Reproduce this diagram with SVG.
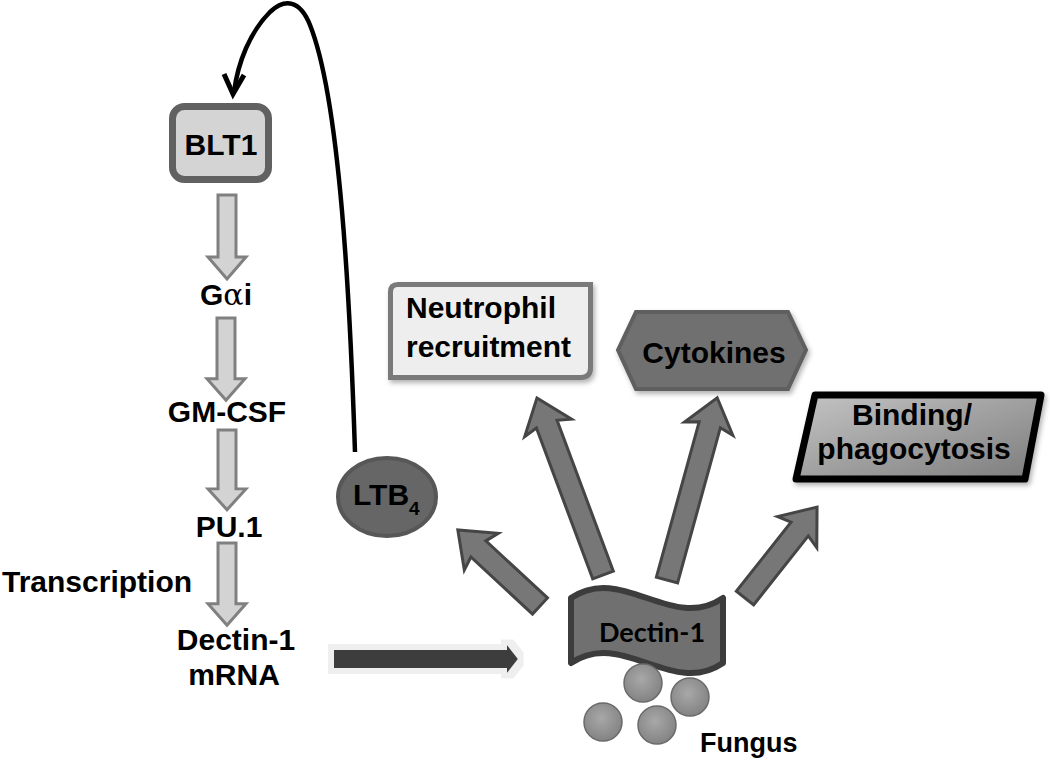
<svg xmlns="http://www.w3.org/2000/svg" width="1050" height="760" viewBox="0 0 1050 760">
<defs>
<style>
.t{font-family:"Liberation Sans",Arial,sans-serif;font-weight:bold;font-size:30px;fill:#000}
.vArrow{fill:#d3d3d3;stroke:#808080;stroke-width:3;stroke-linejoin:miter}
.rArrow{fill:#777777;stroke:#454545;stroke-width:3;stroke-linejoin:miter}
.ball{fill:url(#ballGrad);stroke:#6a6a6a;stroke-width:1.5}
</style>
<radialGradient id="ballGrad" cx="0.45" cy="0.4" r="0.65">
<stop offset="0" stop-color="#a8a8a8"/>
<stop offset="1" stop-color="#808080"/>
</radialGradient>
<linearGradient id="bindGrad" x1="0" y1="0" x2="1" y2="1">
<stop offset="0" stop-color="#c4c4c4"/>
<stop offset="1" stop-color="#7c7c7c"/>
</linearGradient>
<filter id="shadow" x="-10%" y="-10%" width="130%" height="140%">
<feDropShadow dx="2" dy="3" stdDeviation="2.5" flood-color="#000" flood-opacity="0.3"/>
</filter>
<filter id="glow" x="-10%" y="-50%" width="120%" height="200%">
<feMorphology operator="dilate" radius="6" in="SourceAlpha" result="d"/>
<feFlood flood-color="#efefef"/>
<feComposite in2="d" operator="in" result="g"/>
<feMerge><feMergeNode in="g"/><feMergeNode in="SourceGraphic"/></feMerge>
</filter>
<path id="vArr" d="M-9,0 L9,0 L9,62 L19,62 L0,84 L-19,62 L-9,62 Z"/>
</defs>

<g id="connectors">
<!-- feedback curve LTB4 -> BLT1 -->
<path d="M355,452 C350,300 340,100 310,25 C300,0 285,-2 270,12 C250,32 238,62 234,92" fill="none" stroke="#000" stroke-width="4.5"/>
<polyline points="224,74 233,94 244,75" fill="none" stroke="#000" stroke-width="5" stroke-linejoin="miter"/>
<!-- vertical pathway arrows -->
<use href="#vArr" class="vArrow" transform="translate(227,195)"/>
<use href="#vArr" class="vArrow" transform="translate(226,318) scale(1,0.98)"/>
<use href="#vArr" class="vArrow" transform="translate(227,430) scale(1,0.95)"/>
<use href="#vArr" class="vArrow" transform="translate(227,543) scale(1,0.98)"/>
<!-- mRNA -> Dectin-1 arrow -->
<polygon points="334,650 507,650 507,645 518,659 507,673 507,668 334,668" fill="#3d3d3d" filter="url(#glow)"/>
<!-- radiating arrows from Dectin-1 -->
<polygon class="rArrow" points="0,-11 84,-11 80,-25 112,0 80,25 84,11 0,11" transform="translate(540,606) rotate(-137.2)"/>
<polygon class="rArrow" points="0,-11 161,-11 157,-25 189,0 157,25 161,11 0,11" transform="translate(603,575) rotate(-110.45)"/>
<polygon class="rArrow" points="0,-11 161,-11 157,-25 189,0 157,25 161,11 0,11" transform="translate(667,580) rotate(-74.6)"/>
<polygon class="rArrow" points="0,-11 88,-11 84,-25 116,0 84,25 88,11 0,11" transform="translate(745,598) rotate(-51.6)"/>
</g>

<g id="BLT1">
<rect x="172.5" y="106.5" width="96" height="73" rx="12" fill="#d4d4d4" stroke="#616161" stroke-width="7"/>
<text class="t" x="221" y="155" text-anchor="middle">BLT1</text>
</g>

<g id="Galphai"><text class="t" x="226" y="305" text-anchor="middle">G<tspan font-family="'DejaVu Serif','Liberation Serif',serif" font-weight="normal">α</tspan>i</text></g>
<g id="GM-CSF"><text class="t" x="227" y="422" text-anchor="middle">GM-CSF</text></g>
<g id="PU1"><text class="t" x="229" y="537" text-anchor="middle">PU.1</text></g>
<g id="Transcription"><text class="t" x="2" y="592">Transcription</text></g>
<g id="Dectin1mRNA">
<text class="t" x="236" y="650" text-anchor="middle">Dectin-1</text>
<text class="t" x="234" y="685" text-anchor="middle">mRNA</text>
</g>

<g id="LTB4">
<ellipse cx="387" cy="497" rx="49" ry="39" fill="#666666" stroke="#575757" stroke-width="4"/>
<text class="t" x="353" y="505">LTB<tspan font-size="19" dy="10">4</tspan></text>
</g>

<g id="Neutrophil">
<path d="M398,284.5 L590.5,284.5 L590.5,368 Q590.5,377.5 581,377.5 L390.5,377.5 L390.5,292 Q390.5,284.5 398,284.5 Z" fill="#eeeeee" stroke="#7a7a7a" stroke-width="5" filter="url(#shadow)"/>
<text class="t" x="406" y="318">Neutrophil</text>
<text class="t" x="406" y="357">recruitment</text>
</g>

<g id="Cytokines">
<polygon points="618,350 636,312 788,312 806,350 788,389 636,389" fill="#707070" stroke="#5e5e5e" stroke-width="4" filter="url(#shadow)"/>
<text class="t" x="714" y="363" text-anchor="middle">Cytokines</text>
</g>

<g id="Binding">
<polygon points="815,395 1041,395 1025,479 796,479" fill="url(#bindGrad)" stroke="#000" stroke-width="7" stroke-linejoin="round" filter="url(#shadow)"/>
<text class="t" x="912" y="425" text-anchor="middle">Binding/</text>
<text class="t" x="914" y="459" text-anchor="middle">phagocytosis</text>
</g>

<g id="Dectin1">
<path d="M571,598 C622,563 672,633 723,598 L723,663 C672,698 622,628 571,663 Z" fill="#707070" stroke="#3c3c3c" stroke-width="6" stroke-linejoin="round"/>
<text x="652" y="642" text-anchor="middle" style="font-family:Lato,'Open Sans',sans-serif;font-weight:bold;font-size:27px;fill:#000">Dectin-1</text>
</g>

<g id="Fungus">
<circle class="ball" cx="643" cy="683" r="19"/>
<circle class="ball" cx="690" cy="697" r="19"/>
<circle class="ball" cx="603" cy="722" r="19"/>
<circle class="ball" cx="657" cy="725" r="19"/>
<text class="t" x="700" y="752" style="font-size:27px">Fungus</text>
</g>
</svg>
